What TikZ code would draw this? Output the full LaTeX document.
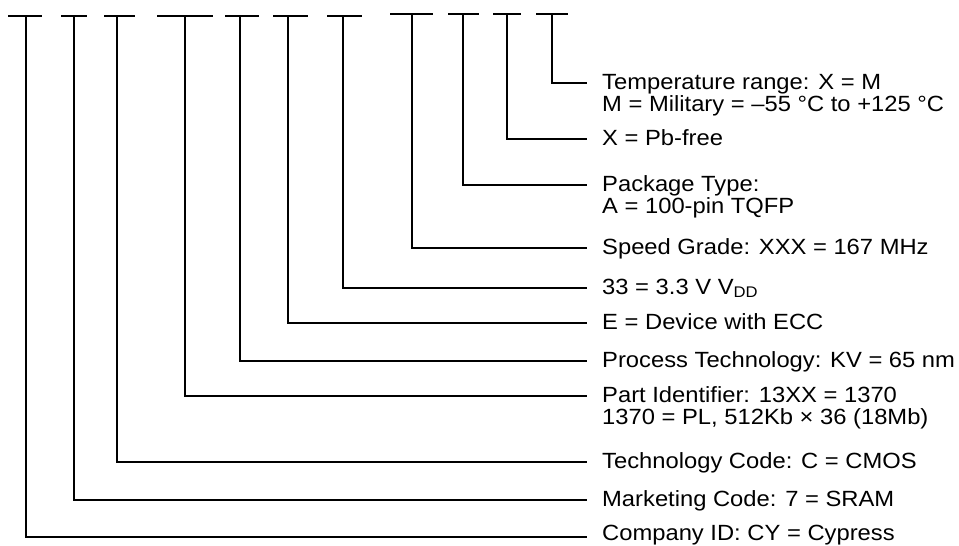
\documentclass[tikz,border=0pt]{standalone}
\usepackage{fontspec}
\setmainfont{Liberation Sans}[FakeStretch=1.08]
\usetikzlibrary{calc}

\begin{document}
\begin{tikzpicture}[x=1pt, y=-1pt,
  lbl/.style={anchor=base west, align=left, inner sep=0pt, xshift=15pt, yshift=-6pt,
    font=\fontsize{22}{22}\selectfont},
  lbltwo/.style={lbl, yshift=-22pt},
  lead/.style={line width=2pt},
  bar/.style={line width=2.4pt}]
\useasboundingbox (0,0) rectangle (959,546);
% tops of the leaders, under the part number
\coordinate (t1) at (26,16);
\coordinate (t2) at (74,16);
\coordinate (t3) at (117,16);
\coordinate (t4) at (185,16);
\coordinate (t5) at (240,16);
\coordinate (t6) at (288,16);
\coordinate (t7) at (343,16);
\coordinate (t8) at (412,14);
\coordinate (t9) at (463,14);
\coordinate (t10) at (507,14);
\coordinate (t11) at (552,14);
% ends of the leaders
\coordinate (e1) at (587,537);
\coordinate (e2) at (587,500);
\coordinate (e3) at (587,462);
\coordinate (e4) at (587,396);
\coordinate (e5) at (587,361);
\coordinate (e6) at (587,323);
\coordinate (e7) at (587,288);
\coordinate (e8) at (587,248);
\coordinate (e9) at (587,185);
\coordinate (e10) at (587,139);
\coordinate (e11) at (587,83);
% field descriptions
\node[lbl, yshift=2.5pt] (company) at (e1) {Company ID: CY = Cypress};
\node[lbl] (marketing) at (e2) {Marketing Code: 7 = SRAM};
\node[lbl] (techcode) at (e3) {Technology Code: C = CMOS};
\node[lbltwo] (partid) at (e4) {Part Identifier: 13XX = 1370\\1370 = PL, 512Kb × 36 (18Mb)};
\node[lbl] (process) at (e5) {Process Technology: KV = 65 nm};
\node[lbl] (ecc) at (e6) {E = Device with ECC};
\node[lbl] (vdd) at (e7) {33 = 3.3 V V\textsubscript{DD}};
\node[lbl] (speed) at (e8) {Speed Grade: XXX = 167 MHz};
\node[lbltwo] (pkg) at (e9) {Package Type:\\A = 100-pin TQFP};
\node[lbl] (pbfree) at (e10) {X = Pb-free};
\node[lbltwo] (temp) at (e11) {Temperature range: X = M\\M = Military = –55 °C to +125 °C};
% underline stubs
\draw[bar] ([xshift=-18pt]t1) -- ([xshift=16pt]t1);
\draw[bar] ([xshift=-13pt]t2) -- ([xshift=13pt]t2);
\draw[bar] ([xshift=-13pt]t3) -- ([xshift=18pt]t3);
\draw[bar] ([xshift=-28pt]t4) -- ([xshift=28pt]t4);
\draw[bar] ([xshift=-15pt]t5) -- ([xshift=19pt]t5);
\draw[bar] ([xshift=-15pt]t6) -- ([xshift=20pt]t6);
\draw[bar] ([xshift=-16pt]t7) -- ([xshift=19pt]t7);
\draw[bar] ([xshift=-22pt]t8) -- ([xshift=21pt]t8);
\draw[bar] ([xshift=-15pt]t9) -- ([xshift=16pt]t9);
\draw[bar] ([xshift=-14pt]t10) -- ([xshift=14pt]t10);
\draw[bar] ([xshift=-16pt]t11) -- ([xshift=16pt]t11);
% leaders
\draw[lead] (t1) |- (e1);
\draw[lead] (t2) |- (e2);
\draw[lead] (t3) |- (e3);
\draw[lead] (t4) |- (e4);
\draw[lead] (t5) |- (e5);
\draw[lead] (t6) |- (e6);
\draw[lead] (t7) |- (e7);
\draw[lead] (t8) |- (e8);
\draw[lead] (t9) |- (e9);
\draw[lead] (t10) |- (e10);
\draw[lead] (t11) |- (e11);
\end{tikzpicture}
\end{document}
